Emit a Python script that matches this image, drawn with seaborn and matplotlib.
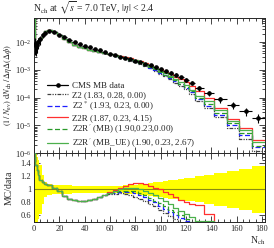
import numpy as np
import matplotlib
matplotlib.use("Agg")
import matplotlib.pyplot as plt
import seaborn as sns
from matplotlib.lines import Line2D
from matplotlib.ticker import MultipleLocator, LogLocator, NullFormatter, FormatStrFormatter

# binning (N_ch bin edges)
edges = [0, 1, 2, 3, 4, 6, 8, 10, 14, 18, 22, 26, 30, 34, 38, 42, 46, 50, 54, 58,
         62, 66, 70, 74, 78, 82, 86, 90, 94, 98, 102, 106, 110, 114, 118, 122,
         127, 134, 142, 152, 162, 172, 182]

# CMS data, log10 of (1/N_ev) dN/...
data_log = [-2.05, -2.15, -2.10, -2.00, -1.90, -1.75, -1.65, -1.59, -1.63, -1.73,
            -1.83, -1.93, -2.01, -2.08, -2.14, -2.19, -2.24, -2.29, -2.35, -2.41,
            -2.46, -2.52, -2.57, -2.62, -2.67, -2.72, -2.78, -2.84, -2.90, -2.97,
            -3.04, -3.11, -3.19, -3.27, -3.35, -3.47, -3.65, -3.83, -4.06, -4.28,
            -4.50, -4.73]

# relative total uncertainty of the data
data_relerr = [0.60, 0.55, 0.50, 0.45, 0.38, 0.22, 0.12, 0.09, 0.075, 0.07,
               0.07, 0.065, 0.06, 0.06, 0.055, 0.055, 0.05, 0.05, 0.05, 0.05,
               0.055, 0.06, 0.065, 0.07, 0.075, 0.08, 0.09, 0.10, 0.11, 0.12,
               0.13, 0.14, 0.15, 0.16, 0.17, 0.18, 0.20, 0.22, 0.25, 0.28,
               0.31, 0.36]

# MC / data ratios
low = [9.0, 1.38, 1.30, 1.22, 1.15, 1.11, 1.09, 1.07, 1.03, 0.97,
       0.90, 0.85, 0.835, 0.83, 0.83, 0.84, 0.86, 0.89, 0.92]
ratio_z2 = low + [0.93, 0.935, 0.94, 0.93, 0.91, 0.89, 0.86, 0.82, 0.78, 0.74, 0.69,
                  0.64, 0.59, 0.54, 0.49, 0.44, 0.39, 0.33, 0.28, 0.22, 0.15, 0.10, 0.065]
ratio_z2star = low + [0.94, 0.95, 0.96, 0.96, 0.96, 0.95, 0.92, 0.88, 0.84, 0.80, 0.75,
                      0.70, 0.65, 0.61, 0.56, 0.51, 0.46, 0.40, 0.35, 0.28, 0.20, 0.14, 0.09]
ratio_z2r = low + [0.96, 0.99, 1.02, 1.05, 1.08, 1.10, 1.10, 1.09, 1.06, 1.03, 1.00,
                   0.96, 0.93, 0.88, 0.84, 0.80, 0.77, 0.76, 0.63, 0.47, 0.33, 0.25, 0.16]
ratio_z2rp_mb = low + [0.94, 0.955, 0.97, 0.975, 0.975, 0.97, 0.945, 0.91, 0.87, 0.83, 0.79,
                       0.74, 0.69, 0.65, 0.60, 0.55, 0.50, 0.44, 0.39, 0.31, 0.23, 0.16, 0.10]
ratio_z2rp_ue = low + [0.95, 0.97, 1.00, 1.02, 1.03, 1.03, 1.01, 0.98, 0.95, 0.91, 0.87,
                       0.82, 0.77, 0.72, 0.67, 0.62, 0.57, 0.51, 0.52, 0.40, 0.28, 0.21, 0.13]

labels = ["Z2 (1.83, 0.28, 0.00)",
          "Z2$^*$ (1.93, 0.23, 0.00)",
          "Z2R (1.87, 0.23, 4.15)",
          "Z2R$'$ (MB) (1.90,0.23,0.00)",
          "Z2R$'$ (MB_UE) (1.90, 0.23, 2.67)"]

sns.set_style("ticks")
plt.rcParams["font.family"] = ["Liberation Serif", "DejaVu Serif"]
plt.rcParams["mathtext.fontset"] = "stix"
plt.rcParams["xtick.direction"] = "in"
plt.rcParams["ytick.direction"] = "in"

edges = np.array(edges, dtype=float)
centers = 0.5 * (edges[:-1] + edges[1:])
halfw = 0.5 * (edges[1:] - edges[:-1])
data = 10 ** np.array(data_log)
relerr = np.array(data_relerr)

styles = [
    dict(color="#404040", ls=(0, (3, 1, 1, 1, 1, 1)), lw=0.9),
    dict(color="#1f1fff", ls=(0, (4, 2)), lw=0.9),
    dict(color="#ff3030", ls="-", lw=0.9),
    dict(color="#2a9a2a", ls=(0, (4, 2)), lw=0.9),
    dict(color="#4cb04c", ls="-", lw=0.9),
]
ratios = [ratio_z2, ratio_z2star, ratio_z2r, ratio_z2rp_mb, ratio_z2rp_ue]

fig = plt.figure(figsize=(2.74, 2.48), dpi=100)
W, H = 274.0, 248.0
ax = fig.add_axes([34 / W, 1 - 153 / H, 230.6 / W, 135 / H])
axr = fig.add_axes([34 / W, 1 - 222 / H, 230.6 / W, 69 / H])

# upper panel: MC histograms
for r, st in zip(ratios, styles):
    mc = data * np.array(r)
    sns.lineplot(x=edges, y=np.append(mc, mc[-1]), ax=ax, drawstyle="steps-post",
                 color=st["color"], linestyle=st["ls"], lw=st["lw"], estimator=None,
                 sort=False)
ax.errorbar(centers, data, xerr=halfw, yerr=relerr * data, fmt="o", color="black",
            ms=2.3, lw=0.8, capsize=0, zorder=5)
ax.set_yscale("log")
ax.set_xlim(0, 182)
ax.set_ylim(1e-6, 0.0748)

# lower panel: ratio
band_lo = np.append(1 - relerr, 1 - relerr[-1])
band_hi = np.append(1 + relerr, 1 + relerr[-1])
axr.fill_between(edges, band_lo, band_hi, step="post", color="#ffff00", lw=0, zorder=1)
axr.axhline(1.0, color="#8a8a10", lw=0.8, zorder=2)
for r, st in zip(ratios, styles):
    rr = np.array(r)
    sns.lineplot(x=edges, y=np.append(rr, rr[-1]), ax=axr, drawstyle="steps-post",
                 color=st["color"], linestyle=st["ls"], lw=st["lw"], estimator=None,
                 sort=False, zorder=3)
axr.set_xlim(0, 182)
axr.set_ylim(0.5, 1.56)

for a in (ax, axr):
    a.tick_params(which="both", top=True, right=True, direction="in", width=0.6,
                  labelsize=6, pad=2)
    a.tick_params(which="major", length=4.5)
    a.tick_params(which="minor", length=2.2)
    a.xaxis.set_major_locator(MultipleLocator(20))
    a.xaxis.set_minor_locator(MultipleLocator(5))
    for s in a.spines.values():
        s.set_linewidth(0.7)
    a.set_xlabel("")
    a.set_ylabel("")
ax.tick_params(labelbottom=False)
ax.yaxis.set_major_locator(LogLocator(base=10, numticks=10))
ax.yaxis.set_minor_locator(LogLocator(base=10, subs=np.arange(2, 10), numticks=20))
ax.yaxis.set_minor_formatter(NullFormatter())
axr.yaxis.set_major_locator(MultipleLocator(0.2))
axr.yaxis.set_minor_locator(MultipleLocator(0.05))
axr.yaxis.set_major_formatter(FormatStrFormatter("%g"))
axr.set_yticks([0.6, 0.8, 1.0, 1.2, 1.4])

# legend
handles = [Line2D([], [], color="black", marker="o", ms=2.3, lw=0.9)]
for st in styles:
    handles.append(Line2D([], [], color=st["color"], ls=st["ls"], lw=st["lw"]))
ax.legend(handles, ["CMS MB data"] + labels, loc="upper left",
          bbox_to_anchor=(0.055, 0.525), frameon=False, fontsize=6.5,
          handlelength=2.4, handletextpad=0.4, labelspacing=0.08,
          borderpad=0, borderaxespad=0)

fig.text(33 / W, 1 - 8 / H, r"N$_{\rm ch}$ at $\sqrt{s}$ = 7.0 TeV, $|\eta|$ < 2.4",
         fontsize=7, ha="left", va="center")
ax.set_ylabel(r"$(1\,/\,N_{\rm ev})\;{\rm d}N_{\rm ch}\,/\,\Delta\eta\Delta(\Delta\phi)$",
              fontsize=6)
ax.yaxis.set_label_coords(-0.088, 0.5)
axr.set_ylabel("MC/data", fontsize=7)
axr.yaxis.set_label_coords(-0.088, 0.5)
fig.text(266 / W, 1 - 241 / H, r"N$_{\rm ch}$", fontsize=7, ha="right", va="center")

fig.savefig("out.png", dpi=100)
